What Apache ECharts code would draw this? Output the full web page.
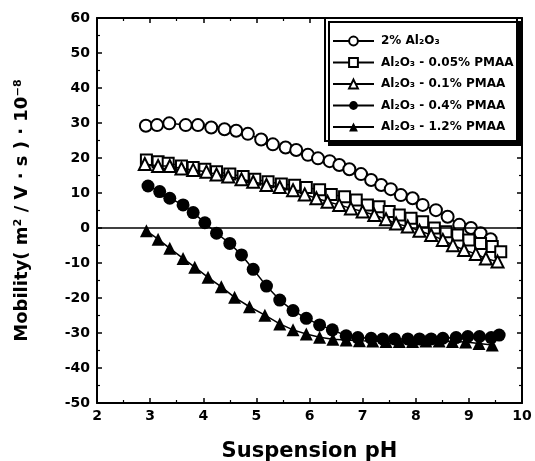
<!DOCTYPE html>
<html>
<head>
<meta charset="utf-8">
<script src="https://cdn.jsdelivr.net/npm/echarts@6/dist/echarts.min.js"></script>
<style>html,body{margin:0;padding:0;background:#fff}#c{width:535px;height:461px}</style>
</head>
<body>
<div id="c"></div>
<script>
const seriesNames = ['2% Al₂O₃', 'Al₂O₃ - 0.05% PMAA', 'Al₂O₃ - 0.1% PMAA', 'Al₂O₃ - 0.4% PMAA', 'Al₂O₃ - 1.2% PMAA'];

const ph0 = [2.92,3.13,3.36,3.67,3.90,4.15,4.40,4.62,4.84,5.09,5.31,5.55,5.75,5.97,6.16,6.38,6.56,6.75,6.97,7.16,7.35,7.53,7.72,7.94,8.13,8.38,8.60,8.82,9.04,9.22,9.41];
const mob0 = [29.2,29.4,29.9,29.4,29.4,28.7,28.2,27.8,26.9,25.3,23.9,23.0,22.3,20.9,19.9,19.1,18.0,16.8,15.4,13.7,12.3,11.1,9.4,8.5,6.6,5.1,3.2,0.9,0.0,-1.5,-3.2];

const ph1 = [2.93,3.15,3.34,3.59,3.81,4.03,4.25,4.50,4.75,4.97,5.22,5.47,5.72,5.94,6.19,6.41,6.66,6.88,7.09,7.31,7.50,7.69,7.91,8.13,8.35,8.57,8.79,9.00,9.22,9.44,9.60];
const mob1 = [19.4,18.9,18.5,17.7,17.3,16.8,16.1,15.4,14.7,13.9,13.2,12.6,12.2,11.6,10.9,9.6,8.9,8.0,6.6,6.1,4.7,3.7,2.8,1.8,0.0,-1.1,-2.0,-3.4,-4.4,-5.3,-6.8];

const ph2 = [2.90,3.15,3.37,3.59,3.81,4.06,4.25,4.47,4.72,4.94,5.19,5.44,5.69,5.91,6.13,6.34,6.56,6.78,7.00,7.22,7.44,7.63,7.85,8.07,8.29,8.51,8.70,8.91,9.13,9.32,9.54];
const mob2 = [18.3,17.7,17.7,17.0,16.6,16.1,15.3,14.7,13.9,13.2,12.3,11.7,10.8,9.6,8.5,7.5,6.6,5.6,4.7,3.7,2.5,1.3,0.4,-0.8,-2.0,-3.4,-4.9,-6.3,-7.4,-8.7,-9.6];

const ph3 = [2.96,3.18,3.37,3.62,3.81,4.03,4.25,4.50,4.72,4.94,5.19,5.44,5.69,5.94,6.19,6.43,6.69,6.91,7.16,7.38,7.60,7.85,8.07,8.29,8.51,8.76,8.98,9.20,9.42,9.57];
const mob3 = [12.0,10.4,8.5,6.6,4.4,1.5,-1.5,-4.4,-7.7,-11.8,-16.6,-20.6,-23.6,-25.8,-27.7,-29.1,-30.8,-31.3,-31.5,-31.7,-31.7,-31.7,-31.7,-31.7,-31.5,-31.3,-31.0,-31.0,-31.3,-30.6];

const ph4 = [2.93,3.15,3.37,3.62,3.84,4.09,4.34,4.59,4.87,5.16,5.44,5.69,5.94,6.19,6.44,6.69,6.94,7.19,7.44,7.69,7.94,8.19,8.44,8.69,8.94,9.19,9.44];
const mob4 = [-0.8,-3.2,-5.8,-8.7,-11.2,-14.1,-16.8,-19.8,-22.5,-24.9,-27.4,-29.1,-30.3,-31.2,-31.8,-32.0,-32.2,-32.3,-32.4,-32.4,-32.4,-32.3,-32.3,-32.4,-32.6,-33.0,-33.4];

const xTicks = [2, 10, 1];
const yTicks = [-50, 60, 10];

const phs = [ph0, ph1, ph2, ph3, ph4];
const mobs = [mob0, mob1, mob2, mob3, mob4];
const symbols = ['circle', 'rect', 'triangle', 'circle', 'triangle'];
const sizes = [12, 11, 12, 13, 13];
const filled = [false, false, false, true, true];

const FONT = 'DejaVu Sans';
const chart = echarts.init(document.getElementById('c'));

const series = seriesNames.map((name, i) => ({
  name: name,
  type: 'line',
  xAxisIndex: 0,
  yAxisIndex: 0,
  data: phs[i].map((x, k) => [x, mobs[i][k]]),
  symbol: symbols[i],
  symbolSize: sizes[i],
  showAllSymbol: true,
  lineStyle: { color: '#000', width: 1.5 },
  itemStyle: filled[i]
    ? { color: '#000', borderColor: '#000', borderWidth: 0 }
    : { color: '#fff', borderColor: '#000', borderWidth: 2 },
  emphasis: { disabled: true },
  z: 3 + i,
  animation: false
}));

series[0].markLine = {
  silent: true,
  symbol: 'none',
  label: { show: false },
  lineStyle: { color: '#000', width: 1.5, type: 'solid' },
  data: [{ yAxis: 0 }],
  animation: false
};

const axisCommon = {
  axisLine: { show: true, onZero: false, lineStyle: { color: '#000', width: 2 } },
  axisTick: { show: true, inside: true, length: 5, lineStyle: { color: '#000', width: 1.5 } },
  minorTick: { show: true, splitNumber: 2, length: 3, lineStyle: { color: '#000', width: 1.2 } },
  splitLine: { show: false }
};

chart.setOption({
  backgroundColor: '#fff',
  animation: false,
  grid: { left: 97, right: 13, top: 18, bottom: 58, containLabel: false, outerBoundsMode: 'none' },
  xAxis: [
    Object.assign({}, axisCommon, {
      type: 'value', position: 'bottom', min: xTicks[0], max: xTicks[1], interval: xTicks[2],
      name: 'Suspension pH', nameLocation: 'middle', nameGap: 38,
      nameTextStyle: { fontFamily: FONT, fontWeight: 'bold', fontSize: 21, color: '#000' },
      axisLabel: { fontFamily: FONT, fontWeight: 'bold', fontSize: 14, color: '#000', margin: 6 }
    }),
    Object.assign({}, axisCommon, {
      type: 'value', position: 'top', min: xTicks[0], max: xTicks[1], interval: xTicks[2],
      axisLabel: { show: false }
    })
  ],
  yAxis: [
    Object.assign({}, axisCommon, {
      type: 'value', position: 'left', min: yTicks[0], max: yTicks[1], interval: yTicks[2],
      name: 'Mobility( m² / V · s ) · 10⁻⁸', nameLocation: 'middle', nameGap: 66,
      nameTextStyle: { fontFamily: FONT, fontWeight: 'bold', fontSize: 18, color: '#000' },
      axisLabel: { fontFamily: FONT, fontWeight: 'bold', fontSize: 14, color: '#000', margin: 7 }
    }),
    Object.assign({}, axisCommon, {
      type: 'value', position: 'right', min: yTicks[0], max: yTicks[1], interval: yTicks[2],
      axisLabel: { show: false }
    })
  ],
  legend: {
    orient: 'vertical',
    left: 332,
    top: 35,
    padding: 0,
    itemGap: 9.5,
    itemWidth: 41,
    itemHeight: 11,
    z: 10,
    data: seriesNames,
    textStyle: { fontFamily: FONT, fontWeight: 'bold', fontSize: 12, color: '#000', padding: [0, 0, 0, 2] },
    selectedMode: false
  },
  graphic: [{
    type: 'rect',
    z: 8,
    shape: { x: 325, y: 18, width: 192, height: 123 },
    style: {
      fill: '#fff', stroke: '#000', lineWidth: 2,
      shadowColor: '#000', shadowBlur: 0, shadowOffsetX: 4, shadowOffsetY: 4
    }
  }],
  series: series
});
</script>
</body>
</html>
